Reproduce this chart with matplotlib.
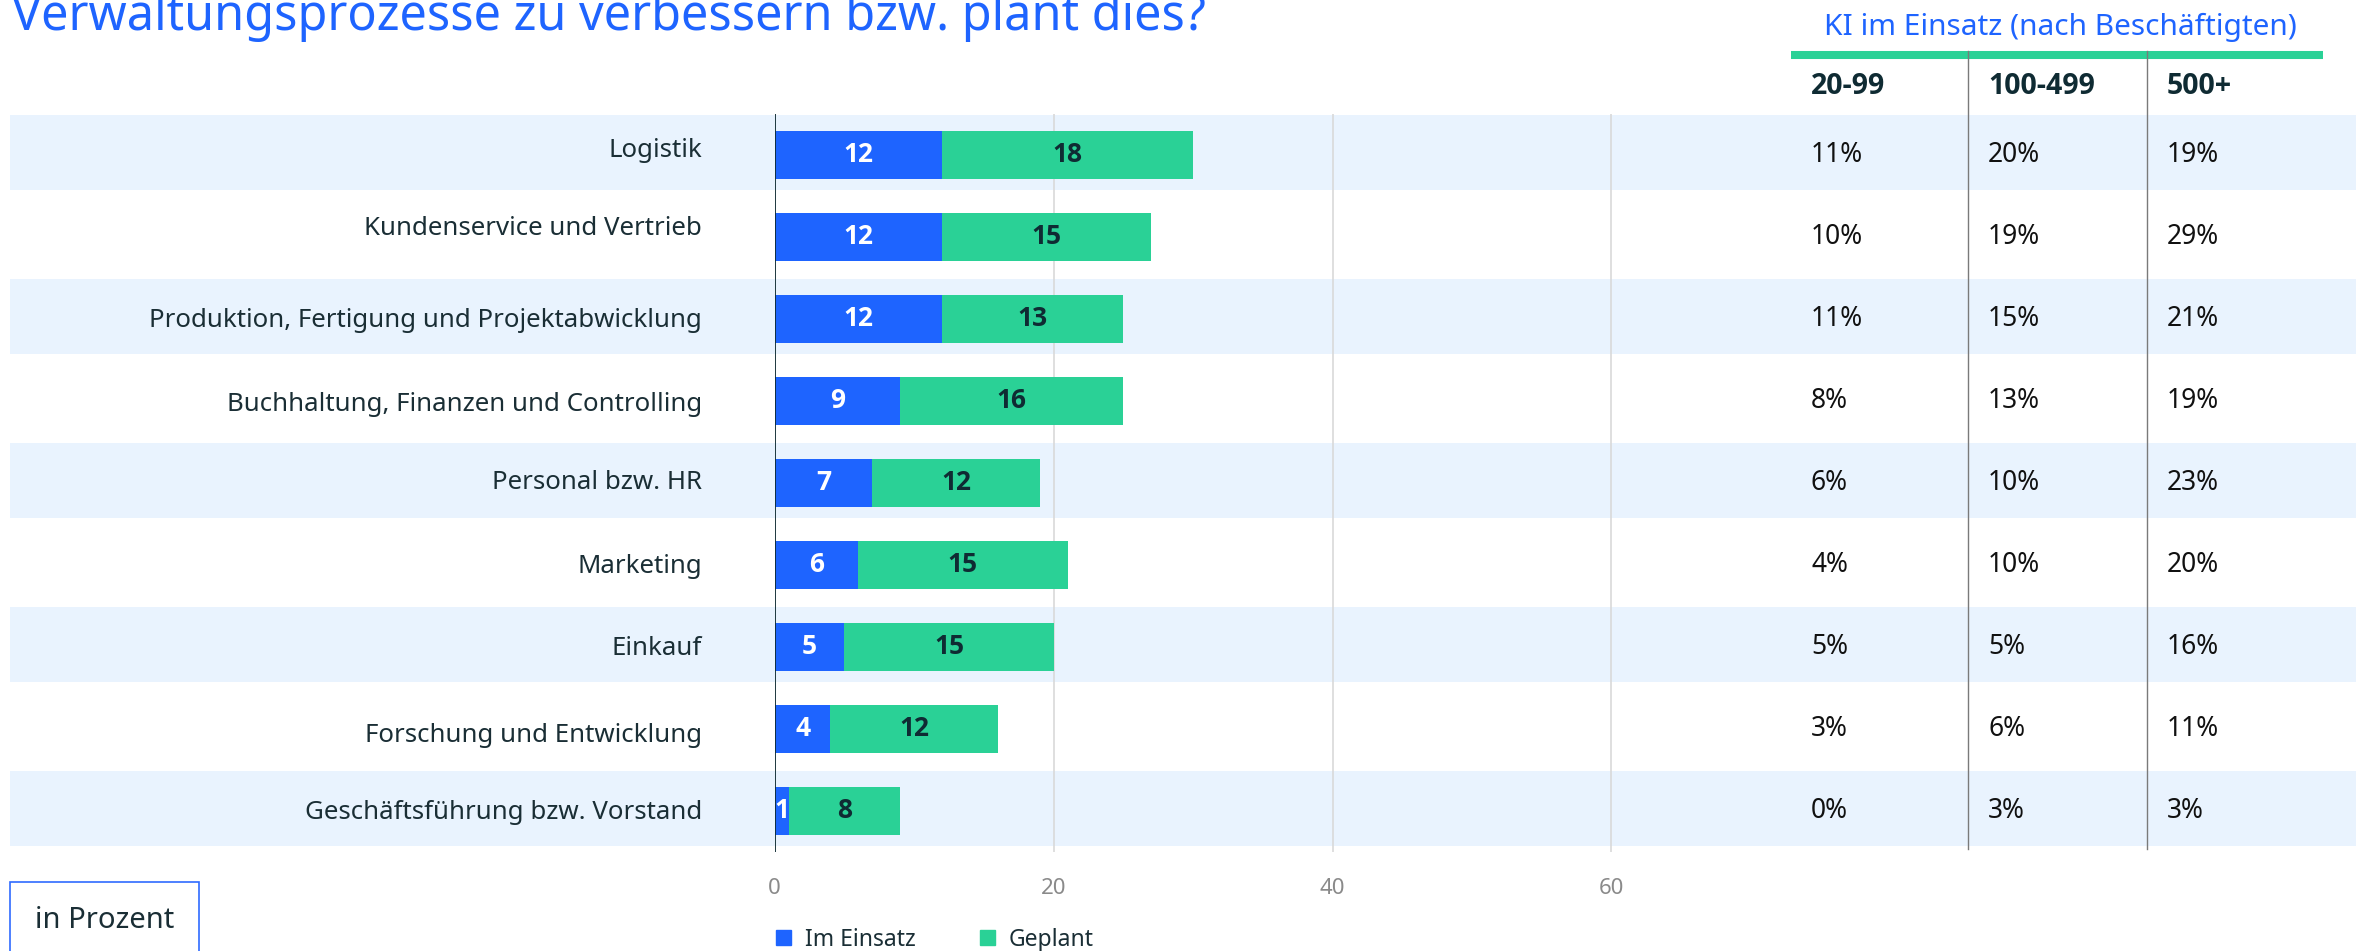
import matplotlib
matplotlib.use("Agg")
import matplotlib.pyplot as plt
import matplotlib.transforms as mtransforms
from matplotlib.patches import Rectangle, Patch
from matplotlib.lines import Line2D

plt.rcParams['font.family'] = ['Noto Sans', 'DejaVu Sans']
BOLD_FAMILY = ['Open Sans', 'Lato', 'DejaVu Sans']

# ---------------- data ----------------
title = "Verwaltungsprozesse zu verbessern bzw. plant dies?"
categories = ["Logistik", "Kundenservice und Vertrieb",
              "Produktion, Fertigung und Projektabwicklung",
              "Buchhaltung, Finanzen und Controlling", "Personal bzw. HR",
              "Marketing", "Einkauf", "Forschung und Entwicklung",
              "Geschäftsführung bzw. Vorstand"]
im_einsatz = [12, 12, 12, 9, 7, 6, 5, 4, 1]
geplant = [18, 15, 13, 16, 12, 15, 15, 12, 8]
series_names = ["Im Einsatz", "Geplant"]
x_ticks = [0, 20, 40, 60]

table_title = "KI im Einsatz (nach Beschäftigten)"
table_cols = ["20-99", "100-499", "500+"]
col_20_99 = [11, 10, 11, 8, 6, 4, 5, 3, 0]
col_100_499 = [20, 19, 15, 13, 10, 10, 5, 6, 3]
col_500 = [19, 29, 21, 19, 23, 20, 16, 11, 3]
unit_label = "in Prozent"

# ---------------- style ----------------
BLUE = '#1e64ff'
GREEN = '#2ad196'
DARK = '#0f2b33'
TXT = '#1a2e35'
BAND = '#e9f3fe'
W, H = 2356, 951


def fx(px):
    return px / W


def fy(py):
    return 1 - py / H


fig = plt.figure(figsize=(W / 100, H / 100), dpi=100)
fig.patch.set_facecolor('white')

unit = 13.945          # px per percent
row = 82.0             # px per row
ax_top, ax_bot = 113.7, 851.7
ax = fig.add_axes([fx(774.7), fy(ax_bot), fx(65 * unit), (ax_bot - ax_top) / H])
ax.set_facecolor('none')

y = list(range(len(categories)))
blend = mtransforms.blended_transform_factory(fig.transFigure, ax.transData)

# alternating row bands
for i in y:
    if i % 2 == 0:
        ax.add_patch(Rectangle((fx(10), i - 0.49), 1.0, 0.915, transform=blend,
                               facecolor=BAND, edgecolor='none', zorder=0,
                               clip_on=False))

bh = 48 / row
b1 = ax.barh(y, im_einsatz, height=bh, color=BLUE, zorder=3)
b2 = ax.barh(y, geplant, left=im_einsatz, height=bh, color=GREEN, zorder=3)
ax.bar_label(b1, labels=[str(v) for v in im_einsatz], label_type='center',
             color='white', fontweight='bold', fontsize=19,
             family=BOLD_FAMILY)
ax.bar_label(b2, labels=[str(v) for v in geplant], label_type='center',
             color=DARK, fontweight='bold', fontsize=19, family=BOLD_FAMILY)

ax.set_xlim(0, 65)
ax.set_ylim(len(categories) - 0.5, -0.5)
ax.set_xticks(x_ticks)
ax.set_xticklabels([str(t) for t in x_ticks])
ax.set_yticks([])
ax.tick_params(axis='x', length=0, pad=19, labelsize=16, labelcolor='#8a8a8a')
ax.set_axisbelow(True)
ax.grid(axis='x', color='#d9d9d9', lw=1.2)
for s in ax.spines.values():
    s.set_visible(False)
ax.axvline(0, color=DARK, lw=1.3, zorder=4)

# category labels
label_dy = [-4.5, -8, 1.5, 3.5, 0, 1.5, 2, 7, 1.5]
for i, (cat, dy) in enumerate(zip(categories, label_dy)):
    ax.text(fx(702), i + dy / row, cat, transform=blend, ha='right',
            va='center', fontsize=18.6, color=TXT)

# table
col_x = [1811, 1988, 2167]
for xpos, vals in zip(col_x, [col_20_99, col_100_499, col_500]):
    for i, v in enumerate(vals):
        ax.text(fx(xpos), i, f"{v}%", transform=blend, ha='left', va='center',
                fontsize=19, color='#111111', zorder=5)
for xpos, name in zip(col_x, table_cols):
    fig.text(fx(xpos), fy(86), name, ha='left', va='center', fontsize=20.5,
             fontweight='bold', color=DARK, family=BOLD_FAMILY)
fig.text(fx(2060), fy(27), table_title, ha='center', va='center',
         fontsize=21.5, color=BLUE)
fig.add_artist(Line2D([fx(1791), fx(2323)], [fy(55), fy(55)], lw=5.8,
                      color=GREEN, transform=fig.transFigure,
                      solid_capstyle='butt'))
for xs in [1967.5, 2146.5]:
    fig.add_artist(Line2D([fx(xs), fx(xs)], [fy(51), fy(849)], lw=1.0,
                          color='#7a7a7a', transform=fig.transFigure))

# title
fig.text(fx(12), fy(30), title, ha='left', va='baseline', fontsize=35,
         color=BLUE)

# unit box
fig.add_artist(Rectangle((fx(9.7), fy(965)), fx(189), (965 - 882) / H,
                         transform=fig.transFigure, facecolor='white',
                         edgecolor='#2f6bff', lw=1.2))
fig.text(fx(104.5), fy(920), unit_label, ha='center', va='center',
         fontsize=21, color=TXT)

# legend
handles = [Patch(color=BLUE, label=series_names[0]),
           Patch(color=GREEN, label=series_names[1])]
fig.legend(handles=handles, loc='center left',
           bbox_to_anchor=(fx(776), fy(939.5)), ncol=2, frameon=False,
           fontsize=16.5, handlelength=0.66, handleheight=0.66,
           handletextpad=0.6, columnspacing=2.8, borderpad=0,
           borderaxespad=0, labelcolor=TXT)

fig.savefig('out.png', dpi=100)
